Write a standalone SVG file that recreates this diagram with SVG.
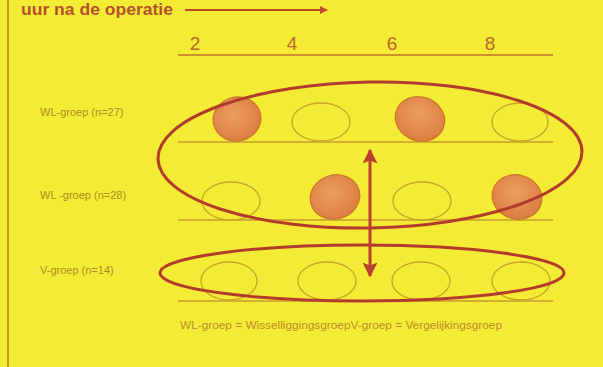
<svg xmlns="http://www.w3.org/2000/svg" width="603" height="367" viewBox="0 0 603 367">
<style>
.lbl{font-family:"Liberation Sans",Arial,sans-serif;font-size:11px;fill:#b08a22}
.num{font-family:"Liberation Sans",Arial,sans-serif;font-size:19px;fill:#b8682c}
.row{stroke:#c99a2c;stroke-width:1.5;fill:none}
.open{fill:none;stroke:#c9a226;stroke-width:1.3}
.full{fill:url(#og);stroke:#c9752e;stroke-width:1.2}
.big{fill:none;stroke:#b23c2c;stroke-width:3}
</style>
<defs>
<radialGradient id="og" cx="0.45" cy="0.4" r="0.6">
<stop offset="0" stop-color="#eaa060"/>
<stop offset="1" stop-color="#dc7c40"/>
</radialGradient>
<marker id="ah" viewBox="0 0 10 10" refX="9" refY="5" markerWidth="5" markerHeight="5" orient="auto-start-reverse" markerUnits="strokeWidth">
<path d="M0,0 L10,5 L0,10 L2,5 Z" fill="#b84030"/>
</marker>
<marker id="ah2" viewBox="0 0 10 10" refX="9" refY="5" markerWidth="4" markerHeight="4" orient="auto" markerUnits="strokeWidth">
<path d="M0,0 L10,5 L0,10 Z" fill="#c04a2a"/>
</marker>
</defs>
<rect width="603" height="367" fill="#f4ec34"/>
<line x1="8" y1="0" x2="8" y2="367" stroke="#c4a024" stroke-width="2"/>
<g id="header">
<text x="21" y="15" font-family="'Liberation Sans',Arial,sans-serif" font-size="16" font-weight="bold" fill="#b4502c" textLength="152" lengthAdjust="spacingAndGlyphs">uur na de operatie</text>
<line x1="185" y1="10" x2="327" y2="10" stroke="#c04a2a" stroke-width="2" marker-end="url(#ah2)"/>
</g>
<g id="axis">
<text class="num" x="195" y="50" text-anchor="middle">2</text>
<text class="num" x="292" y="50" text-anchor="middle">4</text>
<text class="num" x="392" y="50" text-anchor="middle">6</text>
<text class="num" x="490" y="50" text-anchor="middle">8</text>
<line x1="178" y1="55" x2="553" y2="55" stroke="#c0722c" stroke-width="1.5"/>
</g>
<g id="row1">
<text class="lbl" x="40" y="116">WL-groep (n=27)</text>
<line class="row" x1="178" y1="142" x2="553" y2="142"/>
<ellipse class="full" cx="237" cy="119" rx="24" ry="22" transform="rotate(-15 237 119)"/>
<ellipse class="open" cx="321" cy="122" rx="29" ry="19"/>
<ellipse class="full" cx="420" cy="119" rx="25" ry="22" transform="rotate(20 420 119)"/>
<ellipse class="open" cx="520" cy="122" rx="28" ry="19"/>
</g>
<g id="row2">
<text class="lbl" x="40" y="199">WL -groep (n=28)</text>
<line class="row" x1="178" y1="220" x2="553" y2="220"/>
<ellipse class="open" cx="231" cy="201" rx="29" ry="19"/>
<ellipse class="full" cx="335" cy="197" rx="25" ry="22" transform="rotate(-15 335 197)"/>
<ellipse class="open" cx="422" cy="201" rx="29" ry="19"/>
<ellipse class="full" cx="517" cy="197" rx="25" ry="22" transform="rotate(15 517 197)"/>
</g>
<g id="row3">
<text class="lbl" x="40" y="274">V-groep (n=14)</text>
<line class="row" x1="178" y1="301" x2="553" y2="301"/>
<ellipse class="open" cx="229" cy="281" rx="28" ry="19"/>
<ellipse class="open" cx="327" cy="281" rx="29" ry="19"/>
<ellipse class="open" cx="421" cy="281" rx="29" ry="19"/>
<ellipse class="open" cx="521" cy="281" rx="29" ry="19"/>
</g>
<g id="wl-group">
<ellipse class="big" cx="370" cy="155" rx="212" ry="73" transform="rotate(-1 370 155)"/>
</g>
<g id="v-group">
<ellipse class="big" cx="362" cy="273" rx="202" ry="28"/>
</g>
<g id="connectors">
<line x1="370" y1="150" x2="370" y2="276" stroke="#b84030" stroke-width="3" marker-start="url(#ah)" marker-end="url(#ah)"/>
</g>
<g id="legend">
<text x="180" y="329" font-family="'Liberation Sans',Arial,sans-serif" font-size="10" fill="#c08a2a" textLength="322" lengthAdjust="spacingAndGlyphs">WL-groep = WisselliggingsgroepV-groep = Vergelijkingsgroep</text>
</g>
</svg>
